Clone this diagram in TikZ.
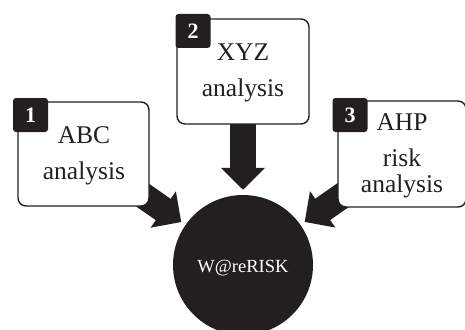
\documentclass[tikz,border=0pt]{standalone}
\usepackage{fontspec}
\setmainfont{Liberation Serif}
\usetikzlibrary{arrows.meta,backgrounds}
\definecolor{ink}{HTML}{231F20}
\begin{document}
\begin{tikzpicture}[x=1pt,y=-1pt,
  box/.style={draw=ink, line width=1.4pt, rounded corners=8pt, fill=white, inner sep=0pt},
  lbl/.style={text=ink, align=center, font=\fontsize{25.5}{36}\selectfont, inner sep=0pt},
  badge/.style={fill=ink, rounded corners=3pt, minimum width=35pt, minimum height=34pt, inner sep=0pt, text=white, font=\fontsize{22}{22}\selectfont\bfseries},
  hub/.style={circle, fill=ink, minimum size=140pt, inner sep=0pt},
  hubtext/.style={text=white, inner sep=0pt, font=\fontsize{18.5}{20}\selectfont},
  bigarrow/.style={draw=ink, line width=26pt, -{Triangle[width=43pt,length=22pt]}, shorten >=5pt}
]
\useasboundingbox (0,0) rectangle (465,329);

% boxes
\node[box, minimum width=131pt, minimum height=104pt] (b1) at (83.5,154) {};
\node[box, minimum width=132pt, minimum height=105pt] (b2) at (243,71.5) {};
\node[box, minimum width=128pt, minimum height=106pt] (b3) at (402,154) {};

% texts
\node[lbl] (t1) at (84,155.4) {ABC\\analysis};
\node[lbl] (t2) at (243,73.3) {XYZ\\analysis};
\node[lbl] (t3) at (402,155.6) {AHP\\risk\\[-10pt]analysis};

% badges
\node[badge] (n1) at (30.5,115) {1};
\node[badge] (n2) at (193,31) {2};
\node[badge] (n3) at (350,115) {3};

% hub
\node[hub] (c) at (243,265) {};
\node[hubtext] (ct) at (243,268) {W@reRISK};

\begin{pgfonlayer}{background}
  \fill[white] (0,0) rectangle (465,329);
  \draw[bigarrow] (b1.center) -- (c);
  \draw[bigarrow] (b2.center) -- (c);
  \draw[bigarrow] (b3.center) -- (c);
\end{pgfonlayer}
\end{tikzpicture}
\end{document}
